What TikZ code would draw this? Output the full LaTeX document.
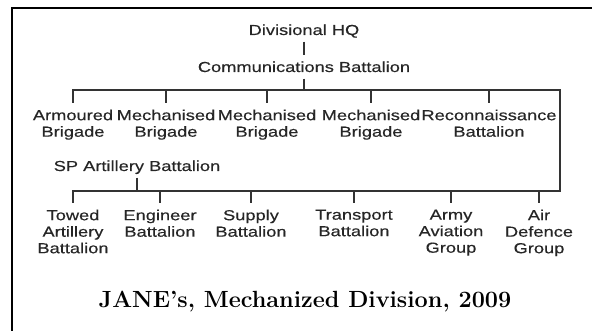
\documentclass[tikz,border=0pt]{standalone}
\usepackage{fontspec}
\newfontfamily\orgfont[FakeStretch=1.26,FakeBold=0.4]{Liberation Sans}
\begin{document}
\begin{tikzpicture}[x=1pt,y=-1pt,
  frame/.style={line width=1.8pt,black},
  link/.style={line width=1.2pt,black!80},
  unit/.style={font=\orgfont\fontsize{14.5}{16.5}\selectfont,text=black!85,align=center,inner xsep=0pt,inner ysep=6.5pt},
  single/.style={unit,text height=10.7pt,text depth=0pt,anchor=base},
  multi/.style={unit,anchor=north},
  title/.style={font=\fontsize{23.4}{28}\selectfont\bfseries,text=black,inner sep=0pt,anchor=base}]
\useasboundingbox (0,0) rectangle (592,331);
% frame
\coordinate (fTL) at (12,8);
\coordinate (fTR) at (593,8);
\coordinate (fBL) at (12,332);
\draw[frame] (fTR) -- (fTL) -- (fBL);
% top levels
\node[single] (hq) at (304,35) {Divisional HQ};
\node[single] (comm) at (304,72) {Communications Battalion};
\coordinate (b1) at (304,90);
\coordinate (b1R) at (560,90);
% brigades
\node[multi] (arm) at (73,103) {Armoured\\Brigade};
\node[multi] (mec1) at (166,103) {Mechanised\\Brigade};
\node[multi] (mec2) at (267,103) {Mechanised\\Brigade};
\node[multi] (mec3) at (371,103) {Mechanised\\Brigade};
\node[multi] (rec) at (489,103) {Reconnaissance\\Battalion};
% lower level
\node[single] (sp) at (137,171) {SP Artillery Battalion};
\coordinate (b2) at (137,191);
\node[multi] (tow) at (73,203) {Towed\\Artillery\\Battalion};
\node[multi] (eng) at (160,203) {Engineer\\Battalion};
\node[multi] (sup) at (251,203) {Supply\\Battalion};
\node[multi] (tra) at (354,203) {Transport\\Battalion};
\node[multi] (avi) at (451,203) {Army\\Aviation\\Group};
\node[multi] (air) at (539,203) {Air\\Defence\\Group};
% connectors
\draw[link] (hq.south) -- (comm.north);
\draw[link] (comm.south) -- (b1);
\draw[link] (arm.north) -- (arm.north |- b1) -- (b1R) -- (b1R |- b2) -- (tow.north |- b2) -- (tow.north);
\foreach \n in {mec1,mec2,mec3,rec} \draw[link] (\n.north |- b1) -- (\n.north);
\draw[link] (sp.south) -- (sp.south |- b2);
\foreach \n in {eng,sup,tra,avi,air} \draw[link] (\n.north |- b2) -- (\n.north);
% title
\node[title] (ttl) at (305,308) {JANE's, Mechanized Division, 2009};
\end{tikzpicture}
\end{document}
